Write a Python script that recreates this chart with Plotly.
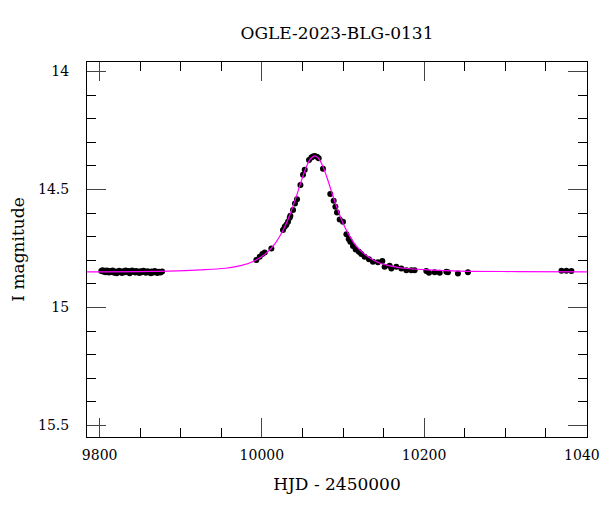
import plotly.graph_objects as go

# ---- data ----
base_t = [9802, 9803.5, 9805, 9806, 9807.5, 9809, 9810, 9811.5, 9813, 9815,
          9816, 9818, 9819.5, 9821, 9823, 9824, 9826, 9827.5, 9829, 9831,
          9832, 9834, 9835.5, 9837, 9839, 9840, 9842, 9844, 9845, 9847,
          9849, 9850, 9852, 9854, 9856, 9857, 9859, 9861, 9863, 9864,
          9866, 9868, 9870, 9871, 9873, 9875, 9877]
base_mag = [14.846, 14.842, 14.849, 14.845, 14.851, 14.843, 14.848, 14.852, 14.846, 14.850,
            14.844, 14.853, 14.848, 14.855, 14.850, 14.845, 14.849, 14.854, 14.847, 14.851,
            14.844, 14.849, 14.846, 14.855, 14.850, 14.843, 14.848, 14.852, 14.846, 14.850,
            14.854, 14.847, 14.851, 14.845, 14.849, 14.853, 14.847, 14.850, 14.855, 14.848,
            14.852, 14.846, 14.850, 14.854, 14.849, 14.852, 14.848]

event_t = [9993.2, 9997.3, 10000.6, 10003.5, 10011.7, 10026.0, 10028.1, 10030.2, 10032.2, 10034.3,
           10035.1, 10038.4, 10040.8, 10043.3, 10047.5, 10050.7, 10052.8, 10058.1, 10061.0, 10063.0,
           10065.1, 10067.9, 10070.0, 10075.3, 10084.3, 10088.5, 10090.6, 10092.6, 10095.9, 10100.0,
           10104.2, 10107.0, 10109.0, 10112.3, 10115.6, 10119.6, 10122.6, 10126.7, 10132.0, 10136.9,
           10143.1, 10148.5, 10151.3, 10157.5, 10159.6, 10165.7, 10171.9, 10178.1, 10184.2, 10188.3,
           10202.7, 10206.0, 10213.0, 10219.2, 10227.4, 10229.4, 10241.7, 10254.0,
           10369.3, 10375.4, 10381.6]
event_mag = [14.799, 14.785, 14.774, 14.767, 14.750, 14.672, 14.658, 14.650, 14.637, 14.620,
             14.612, 14.587, 14.560, 14.542, 14.481, 14.438, 14.417, 14.375, 14.365, 14.360,
             14.358, 14.361, 14.368, 14.412, 14.519, 14.548, 14.573, 14.598, 14.627, 14.637,
             14.690, 14.710, 14.722, 14.740, 14.754, 14.764, 14.774, 14.785, 14.796, 14.806,
             14.809, 14.803, 14.828, 14.823, 14.835, 14.828, 14.835, 14.842, 14.842, 14.842,
             14.846, 14.853, 14.851, 14.853, 14.849, 14.851, 14.856, 14.851,
             14.845, 14.845, 14.846]

model_t = [9784, 9885, 9925, 9955, 9975, 9990, 10005, 10015, 10025, 10030,
           10035, 10040, 10045, 10050, 10055, 10060, 10065.3, 10070, 10075, 10080,
           10085, 10090, 10095, 10100, 10105, 10115, 10125, 10140, 10155, 10175,
           10205, 10245, 10315, 10402]
model_mag = [14.849, 14.846, 14.841, 14.834, 14.822, 14.804, 14.771, 14.735, 14.680, 14.645,
             14.603, 14.555, 14.503, 14.450, 14.403, 14.370, 14.358, 14.369, 14.401, 14.447,
             14.500, 14.552, 14.600, 14.643, 14.678, 14.734, 14.770, 14.804, 14.822, 14.834,
             14.841, 14.846, 14.848, 14.849]

x_tickvals = [9800, 10000, 10200, 10400]
x_ticktext = ["9800", "10000", "10200", "10400"]
y_tickvals = [14, 14.5, 15, 15.5]
y_ticktext = ["14", "14.5", "15", "15.5"]

title_text = "OGLE-2023-BLG-0131"
x_title = "HJD - 2450000"
y_title = "I magnitude"

FONT = "DejaVu Serif"

fig = go.Figure()
fig.add_trace(go.Scatter(x=base_t + event_t, y=base_mag + event_mag, mode="markers",
                         marker=dict(color="black", size=6), showlegend=False,
                         hoverinfo="skip"))
fig.add_trace(go.Scatter(x=model_t, y=model_mag, mode="lines",
                         line=dict(color="#ff00ff", width=1.2, shape="spline"),
                         showlegend=False, hoverinfo="skip"))

axis_common = dict(
    showgrid=False, zeroline=False, showline=True, linecolor="black", linewidth=1,
    mirror="allticks", ticks="inside", ticklen=19, tickwidth=1, tickcolor="#444",
    tickfont=dict(family=FONT, size=14, color="black"), automargin=False,
    ticklabeloverflow="allow",
)

fig.update_xaxes(**axis_common, range=[9784.4, 10400.8], tickvals=x_tickvals,
                 ticktext=x_ticktext, ticklabelstandoff=5,
                 minor=dict(ticks="inside", ticklen=9, dtick=50, tick0=9800,
                            tickcolor="black", tickwidth=1, showgrid=False),
                 title=dict(text=x_title, font=dict(family=FONT, size=17, color="black"),
                            standoff=16))
fig.update_yaxes(**axis_common, range=[15.549, 13.960], tickvals=y_tickvals,
                 ticktext=y_ticktext, ticklabelstandoff=14,
                 minor=dict(ticks="inside", ticklen=9, dtick=0.1, tick0=14,
                            tickcolor="black", tickwidth=1, showgrid=False),
                 title=dict(text=y_title, font=dict(family=FONT, size=17, color="black"),
                            standoff=9))

fig.update_layout(
    width=600, height=512,
    margin=dict(l=87, r=13, t=62, b=75, autoexpand=False),
    paper_bgcolor="white", plot_bgcolor="white",
    title=dict(text=title_text, x=0.5617, xanchor="center", y=1 - 33 / 512,
               yanchor="middle", yref="container",
               font=dict(family=FONT, size=17, color="black")),
)

fig.write_html("out.html", config={"displayModeBar": False},
               post_script="document.body.style.margin='0';document.body.style.overflow='hidden';")
